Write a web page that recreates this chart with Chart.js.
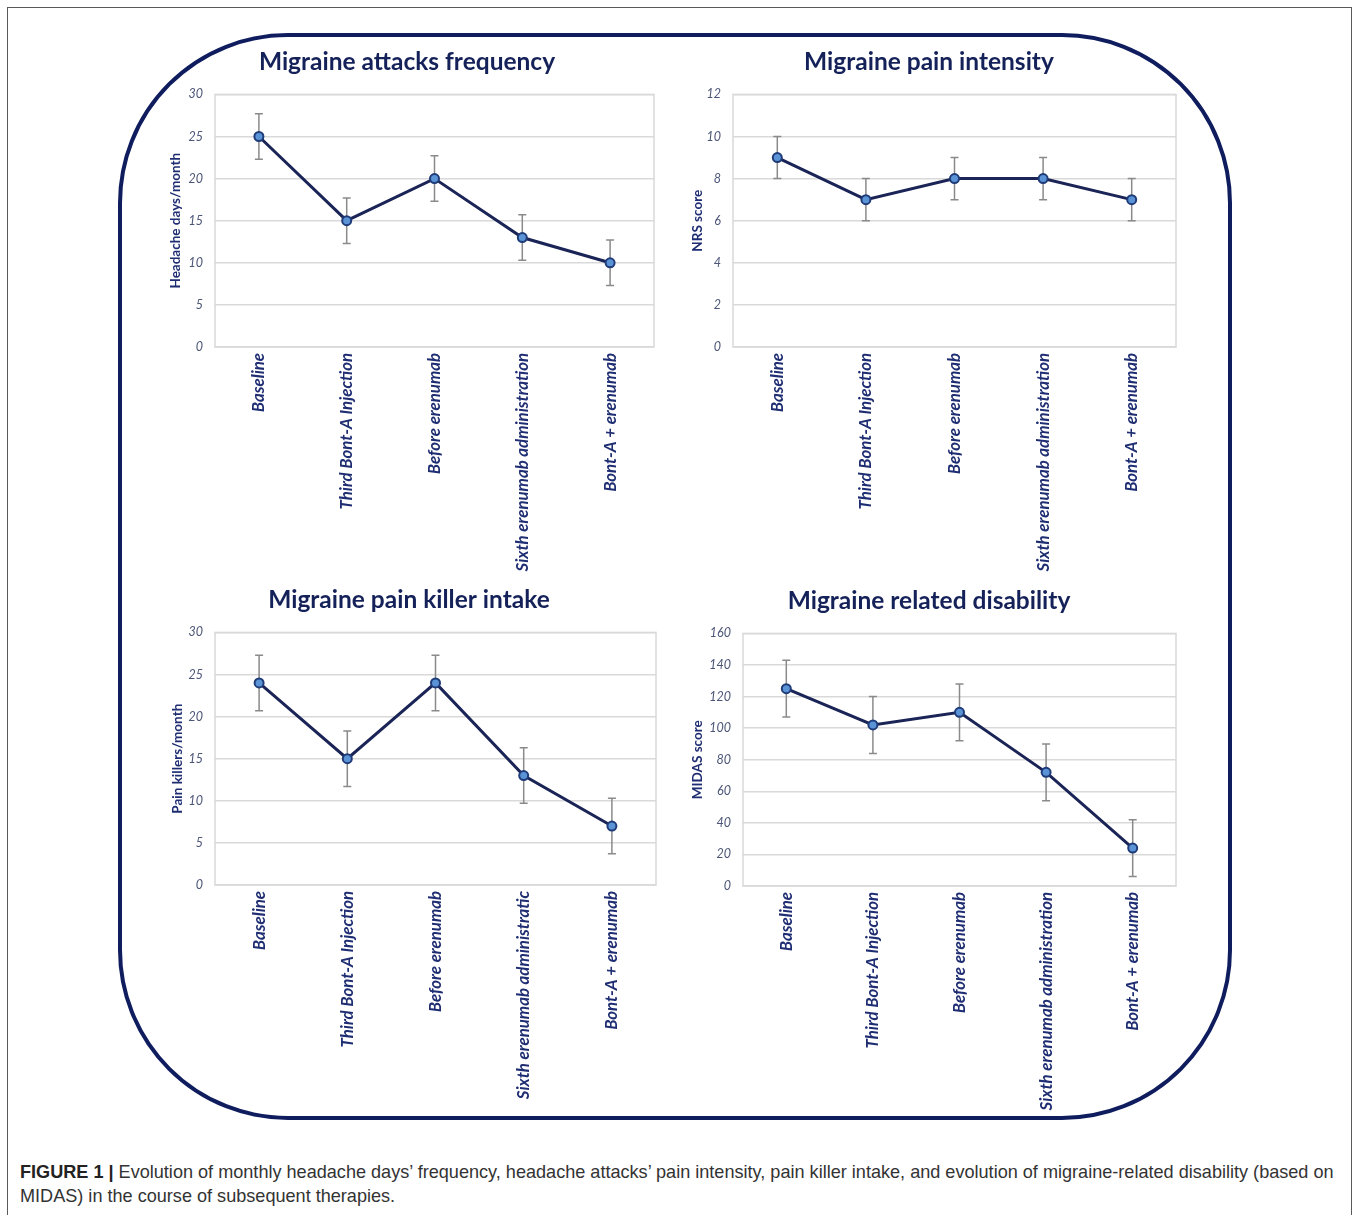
<!DOCTYPE html>
<html>
<head>
<meta charset="utf-8">
<script src="https://cdn.jsdelivr.net/npm/chart.js@4.4.0/dist/chart.umd.min.js"></script>
<style>
  html, body { margin: 0; padding: 0; background: #fff; }
  body { width: 1360px; height: 1215px; position: relative; overflow: hidden; font-family: "Liberation Sans", Arial, sans-serif; }
  #frame { position: absolute; left: 7px; top: 7px; width: 1343px; height: 1240px; border: 1.5px solid #5a5a5a; }
  #panel { position: absolute; left: 118px; top: 33px; width: 1106px; height: 1079px; border: 4px solid #0f1d5e; border-radius: 170px; }
  canvas { position: absolute; }
  #caption { position: absolute; left: 20px; top: 1160px; font-size: 18.1px; line-height: 24px; color: #333; white-space: nowrap; }
  #caption b { color: #222; }
</style>
</head>
<body>
<div id="frame"></div>
<div id="panel"></div>
<canvas id="c1" width="516" height="537" style="left:150px;top:40px"></canvas>
<canvas id="c2" width="516" height="537" style="left:672px;top:40px"></canvas>
<canvas id="c3" width="516" height="537" style="left:152px;top:578px"></canvas>
<canvas id="c4" width="516" height="537" style="left:672px;top:579px"></canvas>
<div id="caption"><b>FIGURE 1 |</b> Evolution of monthly headache days’ frequency, headache attacks’ pain intensity, pain killer intake, and evolution of migraine-related disability (based on<br>MIDAS) in the course of subsequent therapies.</div>

<script>
// Time points of the treatment course
const categories = ['Baseline', 'Third Bont-A Injection', 'Before erenumab', 'Sixth erenumab administration', 'Bont-A + erenumab'];
const categoriesKiller = ['Baseline', 'Third Bont-A Injection', 'Before erenumab', 'Sixth erenumab administratic', 'Bont-A + erenumab'];

// Headache days per month (mean and error)
const headacheDays = [25, 15, 20, 13, 10];
const headacheDaysErr = [2.7, 2.7, 2.7, 2.7, 2.7];

// NRS pain score
const nrsScore = [9, 7, 8, 8, 7];
const nrsErr = [1, 1, 1, 1, 1];

// Pain killers per month
const painKillers = [24, 15, 24, 13, 7];
const painKillersErr = [3.3, 3.3, 3.3, 3.3, 3.3];

// MIDAS disability score
const midasScore = [125, 102, 110, 72, 24];
const midasErr = [18, 18, 18, 18, 18];

// Y axis ranges: [max, step]
const yDays = [30, 5];
const yNrs = [12, 2];
const yKillers = [30, 5];
const yMidas = [160, 20];

const NAVY = '#1b2456';
const TITLE = '#15225a';
const LABEL = '#1f2e72';
const TICK = '#4b5577';
const GRID = '#d9d9d9';

// Error bars and the plot frame, drawn under the line
const errorBars = {
  id: 'errorBars',
  beforeDatasetsDraw(chart) {
    const { ctx, chartArea: a, scales: { x, y } } = chart;
    ctx.save();
    ctx.strokeStyle = GRID;
    ctx.lineWidth = 1.5;
    ctx.strokeRect(a.left, a.top, a.right - a.left, a.bottom - a.top);
    const ds = chart.data.datasets[0];
    const err = ds.errors;
    ctx.strokeStyle = '#8a8a8a';
    ctx.lineWidth = 1.5;
    ds.data.forEach((v, i) => {
      const px = x.getPixelForValue(i);
      const top = y.getPixelForValue(v + err[i]);
      const bot = y.getPixelForValue(v - err[i]);
      ctx.beginPath();
      ctx.moveTo(px, top); ctx.lineTo(px, bot);
      ctx.moveTo(px - 4, top); ctx.lineTo(px + 4, top);
      ctx.moveTo(px - 4, bot); ctx.lineTo(px + 4, bot);
      ctx.stroke();
    });
    ctx.restore();
  }
};

function makeChart(id, title, yTitle, labels, values, errors, yRange, axisWidth) {
  return new Chart(document.getElementById(id), {
    type: 'line',
    data: {
      labels: labels,
      datasets: [{
        data: values,
        errors: errors,
        borderColor: NAVY,
        borderWidth: 3,
        tension: 0,
        pointRadius: 4.5,
        pointBorderWidth: 2,
        pointBorderColor: '#1f3b78',
        pointBackgroundColor: '#5a93d6'
      }]
    },
    options: {
      responsive: false,
      animation: false,
      layout: { padding: { left: 10, right: 12, top: 0, bottom: 0 } },
      plugins: {
        legend: { display: false },
        tooltip: { enabled: false },
        title: {
          display: true,
          text: title,
          color: TITLE,
          font: { family: 'Lato', size: 24.5, weight: 'bold' },
          padding: { top: 7, bottom: 18 }
        }
      },
      scales: {
        x: {
          offset: true,
          grid: { display: false, drawTicks: false },
          border: { display: false },
          ticks: {
            autoSkip: false,
            maxRotation: 90,
            minRotation: 90,
            padding: 6,
            color: LABEL,
            font: { family: 'Lato', size: 16.8, weight: 'bold', style: 'italic' }
          },
          afterFit(scale) { scale.height = 230; }
        },
        y: {
          min: 0,
          max: yRange[0],
          grid: { color: GRID, lineWidth: 1.5, drawTicks: false },
          border: { display: false },
          ticks: {
            stepSize: yRange[1],
            padding: 12,
            color: TICK,
            font: { family: 'Lato', size: 12.5, style: 'italic' }
          },
          title: {
            display: true,
            text: yTitle,
            color: LABEL,
            padding: { top: 8, bottom: 0 },
            font: { family: 'Lato', size: 13.5, weight: 'bold' }
          },
          afterFit(scale) { scale.width = axisWidth; }
        }
      }
    },
    plugins: [errorBars]
  });
}

makeChart('c1', 'Migraine attacks frequency', 'Headache days/month', categories, headacheDays, headacheDaysErr, yDays, 55);
makeChart('c2', 'Migraine pain intensity', 'NRS score', categories, nrsScore, nrsErr, yNrs, 51);
makeChart('c3', 'Migraine pain killer intake', 'Pain killers/month', categoriesKiller, painKillers, painKillersErr, yKillers, 53);
makeChart('c4', 'Migraine related disability', 'MIDAS score', categories, midasScore, midasErr, yMidas, 61);
</script>
</body>
</html>
